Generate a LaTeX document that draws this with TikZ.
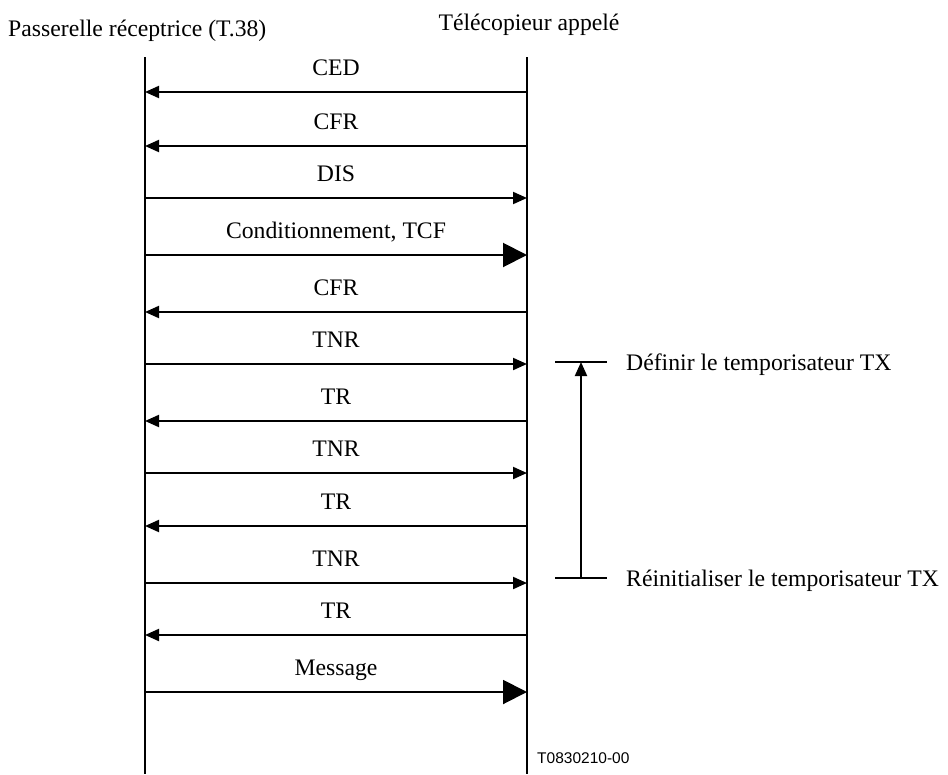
\documentclass[tikz,border=0pt]{standalone}
\usepackage{fontspec}
\setmainfont{Liberation Serif}
\newfontfamily\codefont{Liberation Sans}
\usetikzlibrary{arrows.meta}
\tikzset{
  msg/.style={line width=2pt,-{Triangle[length=14pt,width=12pt]}},
  bigmsg/.style={line width=2pt,-{Triangle[length=24pt,width=24pt]}},
  life/.style={line width=2pt},
  lbl/.style={font=\fontsize{23.7}{28}\selectfont,inner sep=0pt},
  tick/.style={line width=1.2pt},
}
\begin{document}
\begin{tikzpicture}[x=1pt,y=-1pt]
\useasboundingbox (0,0) rectangle (948,774);
% lifelines
\coordinate (LT) at (145,57); \coordinate (LB) at (145,774);
\coordinate (RT) at (527,57); \coordinate (RB) at (527,774);
\draw[life] (LT) -- (LB);
\draw[life] (RT) -- (RB);
% headers
\node[lbl,anchor=base west] (h1) at (8,36) {Passerelle réceptrice (T.38)};
\node[lbl,anchor=base] (h2) at (529,30) {Télécopieur appelé};
% messages
\foreach \y/\t/\d/\s [count=\i] in {
  92/CED/l/msg, 146/CFR/l/msg, 198/DIS/r/msg, 255/{Conditionnement, TCF}/r/bigmsg,
  312/CFR/l/msg, 364/TNR/r/msg, 421/TR/l/msg, 473/TNR/r/msg, 526/TR/l/msg,
  583/TNR/r/msg, 635/TR/l/msg, 692/Message/r/bigmsg}{
  \coordinate (L\i) at (145,\y);
  \coordinate (R\i) at (527,\y);
  \node[lbl,anchor=base] (m\i) at (336,\y-17) {\t};
  \if\d l
    \draw[\s] (R\i) -- (L\i);
  \else
    \draw[\s] (L\i) -- (R\i);
  \fi
}
% timer
\coordinate (T1a) at (555,362); \coordinate (T1b) at (607,362);
\coordinate (T2a) at (555,578); \coordinate (T2b) at (607,578);
\coordinate (TA) at (581,578); \coordinate (TB) at (581,362);
\draw[tick] (T1a) -- (T1b);
\draw[tick] (T2a) -- (T2b);
\draw[msg] (TA) -- (TB);
\node[lbl,anchor=base west] (d1) at (626,370) {Définir le temporisateur TX};
\node[lbl,anchor=base west] (d2) at (626,586) {Réinitialiser le temporisateur TX};
\node[inner sep=0pt,anchor=base west,font=\codefont\fontsize{15.5}{18}\selectfont] (code) at (537,763) {T0830210-00};
\end{tikzpicture}
\end{document}
